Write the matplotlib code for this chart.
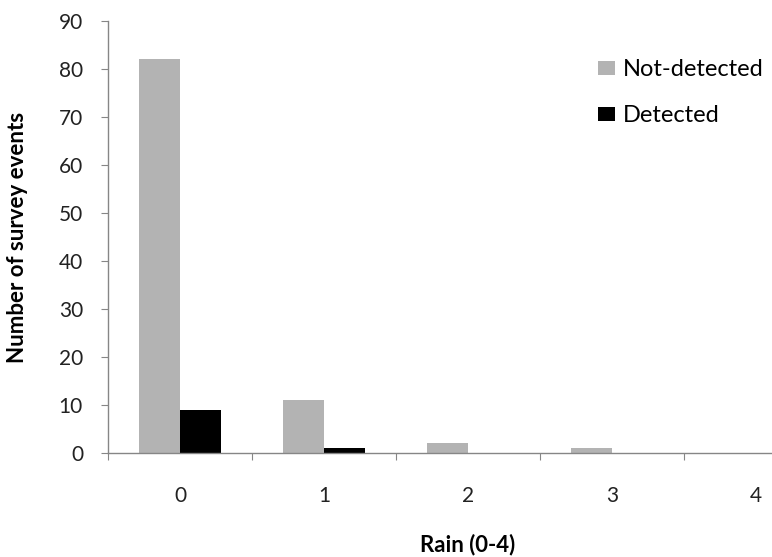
import numpy as np
import matplotlib.pyplot as plt

# Values
rain_levels = ['0', '1', '2', '3', '4']
not_detected = [82, 11, 2, 1, 0]
detected = [9, 1, 0, 0, 0]
y_ticks = [0, 10, 20, 30, 40, 50, 60, 70, 80, 90]

plt.rcParams['font.family'] = ['Lato', 'DejaVu Sans']

fig = plt.figure(figsize=(7.72, 5.57), dpi=100)
# plot area runs past the right edge, as in the reference
ax = fig.add_axes([108 / 772, 1 - 453 / 557, 720 / 772, 432 / 557])

x = np.arange(len(rain_levels))
w = 0.285
ax.bar(x - w / 2, not_detected, w, color='#b3b3b3', label='Not-detected')
ax.bar(x + w / 2, detected, w, color='black', label='Detected')

axis_col = '#868686'
for side in ['top', 'right']:
    ax.spines[side].set_visible(False)
for side in ['left', 'bottom']:
    ax.spines[side].set_color(axis_col)
    ax.spines[side].set_linewidth(1.0)

ax.set_xlim(-0.5, len(rain_levels) - 0.5)
ax.set_ylim(0, 90)
ax.set_yticks(y_ticks)
ax.tick_params(axis='y', direction='out', length=5, color=axis_col, labelsize=15,
               labelcolor='#222222', pad=13)

# category boundaries as major ticks, labels on minor ticks at the centres
ax.set_xticks(np.arange(-0.5, len(rain_levels) + 0.5, 1.0))
ax.set_xticklabels([])
ax.set_xticks(x, minor=True)
ax.set_xticklabels(rain_levels, minor=True)
ax.tick_params(axis='x', which='major', direction='out', length=5, color=axis_col)
ax.tick_params(axis='x', which='minor', length=0, labelsize=15, labelcolor='#222222', pad=24)

ax.set_ylabel('Number of survey events', fontsize=16, fontweight='bold', va='center')
ax.yaxis.set_label_coords(-90 / 720, 0.5)
ax.set_xlabel('Rain (0-4)', fontsize=16, fontweight='bold', va='center')
ax.xaxis.set_label_coords(0.5, -92 / 432)

ax.legend(loc='upper left', bbox_to_anchor=(0.681, 0.911), frameon=False, fontsize=17,
          borderpad=0, borderaxespad=0, handlelength=0.72, handleheight=0.55,
          handletextpad=0.3, labelspacing=1.05)

fig.savefig('out.png', dpi=100)
